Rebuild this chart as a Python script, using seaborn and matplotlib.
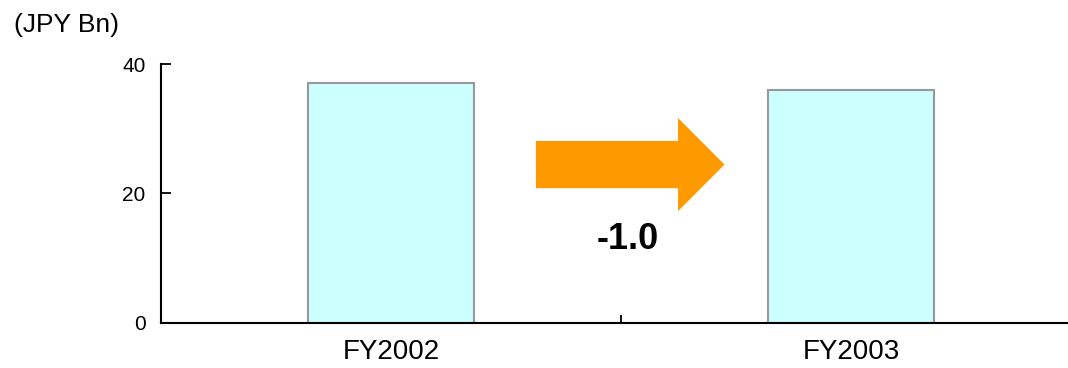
import pandas as pd
import seaborn as sns
import matplotlib.pyplot as plt
from matplotlib.patches import FancyArrow
from matplotlib.ticker import FixedLocator

# data
years = ["FY2002", "FY2003"]
values = [37.0, 36.0]
unit_label = "(JPY Bn)"
y_ticks = [0, 20, 40]

df = pd.DataFrame({"year": years, "value": values})

sns.set_style("white")
plt.rcParams['font.family'] = ['Liberation Sans', 'DejaVu Sans']
plt.rcParams['text.color'] = 'black'

fig = plt.figure(figsize=(10.68, 3.68), dpi=100)
ax = fig.add_axes([161 / 1068, 45.3 / 368, 920 / 1068, 258.7 / 368])

sns.barplot(data=df, x="year", y="value", ax=ax, color="#CCFFFF",
            saturation=1, width=0.36, edgecolor="#999999", linewidth=1.5)

ax.set_xlim(-0.5, 1.5)
ax.set_ylim(0, 40)
ax.set_yticks(y_ticks)
ax.set_xlabel("")
ax.set_ylabel("")

for side in ["top", "right"]:
    ax.spines[side].set_visible(False)
for side in ["left", "bottom"]:
    ax.spines[side].set_color("black")
    ax.spines[side].set_linewidth(1.5)

ax.tick_params(axis="y", left=True, direction="in", length=7, width=1.3,
               labelsize=15, pad=11, colors="black")
ax.tick_params(axis="x", which="major", bottom=True, length=0, labelsize=20,
               pad=12, colors="black")
ax.xaxis.set_minor_locator(FixedLocator([0.5]))
ax.tick_params(axis="x", which="minor", bottom=True, direction="in", length=6,
               width=1.3, color="black")

# change arrow between the two years
arrow = FancyArrow(0.315, 24.45, 0.41, 0, width=7.3, head_width=14.4,
                   head_length=0.101, length_includes_head=True,
                   color="#FF9900", linewidth=0)
ax.add_patch(arrow)
change = values[1] - values[0]
ax.text(0.515, 12.8, f"{change:.1f}", ha="center", va="center",
        fontsize=26, fontweight="bold", color="black")

fig.text(14 / 1068, 1 - 25 / 368, unit_label, ha="left", va="center",
         fontsize=19, color="black")

fig.savefig("out.png", dpi=100)
plt.close()
